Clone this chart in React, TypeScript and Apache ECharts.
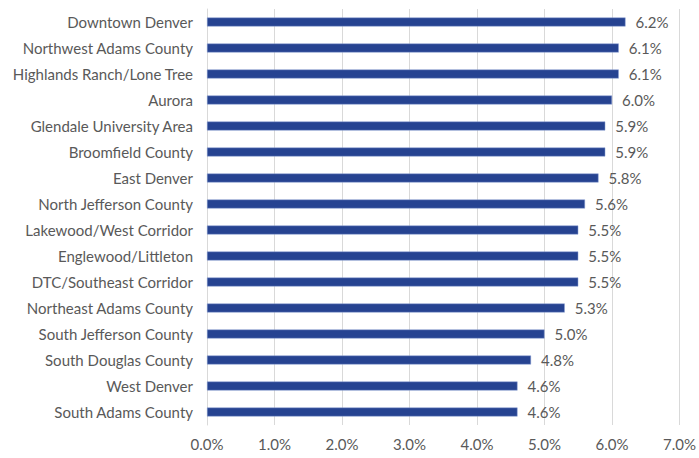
import React, { useEffect, useRef } from "react";
import * as echarts from "echarts";

const categories = [
  "Downtown Denver",
  "Northwest Adams County",
  "Highlands Ranch/Lone Tree",
  "Aurora",
  "Glendale University Area",
  "Broomfield County",
  "East Denver",
  "North Jefferson County",
  "Lakewood/West Corridor",
  "Englewood/Littleton",
  "DTC/Southeast Corridor",
  "Northeast Adams County",
  "South Jefferson County",
  "South Douglas County",
  "West Denver",
  "South Adams County",
];
const values = [6.2, 6.1, 6.1, 6.0, 5.9, 5.9, 5.8, 5.6, 5.5, 5.5, 5.5, 5.3, 5.0, 4.8, 4.6, 4.6];

export default function App() {
  const ref = useRef<HTMLDivElement>(null);
  useEffect(() => {
    if (!ref.current) return;
    const chart = echarts.init(ref.current, null, { renderer: "svg" });
    const font = "Lato, 'Open Sans', sans-serif";
    chart.setOption({
      animation: false,
      grid: { left: 207, right: 16, top: 9, bottom: 33, containLabel: false },
      xAxis: {
        type: "value",
        min: 0,
        max: 7,
        interval: 1,
        axisLine: { show: false },
        axisTick: { show: false },
        splitLine: { show: true, lineStyle: { color: "#d9d9d9", width: 1 } },
        axisLabel: {
          formatter: (v: number) => v.toFixed(1) + "%",
          color: "#595959",
          fontSize: 15,
          fontFamily: font,
          margin: 11,
        },
      },
      yAxis: {
        type: "category",
        data: categories,
        inverse: true,
        axisLine: { show: true, lineStyle: { color: "#d9d9d9" } },
        axisTick: { show: false },
        axisLabel: { color: "#595959", fontSize: 15, fontFamily: font, margin: 14 },
      },
      series: [
        {
          type: "bar",
          data: values,
          barWidth: 9,
          itemStyle: { color: "#264391", borderColor: "#8fa3d6", borderWidth: 0.5 },
          label: {
            show: true,
            position: "right",
            distance: 10,
            formatter: (p: any) => p.value.toFixed(1) + "%",
            color: "#595959",
            fontSize: 15,
            fontFamily: font,
          },
        },
      ],
    });
    return () => chart.dispose();
  }, []);
  return <div ref={ref} style={{ width: 699, height: 458, position: "absolute", left: 0, top: 0, background: "#fff" }} />;
}
